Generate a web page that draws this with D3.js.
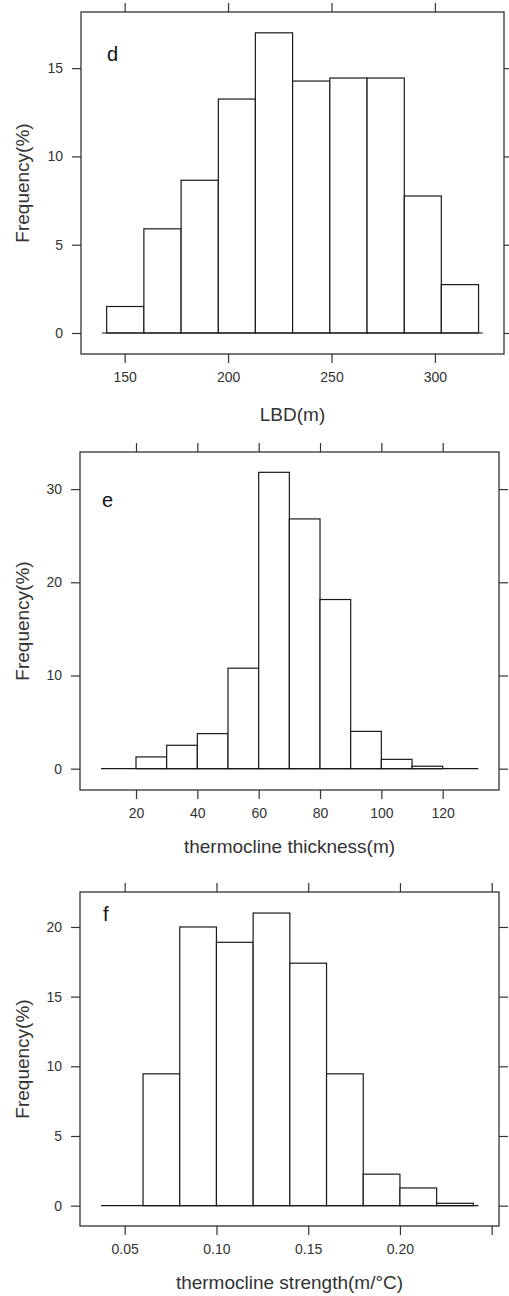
<!DOCTYPE html>
<html>
<head>
<meta charset="utf-8">
<script src="https://cdn.jsdelivr.net/npm/d3@7"></script>
<style>
  body { margin: 0; background: #fff; }
  svg { display: block; font-family: "Liberation Sans", Arial, sans-serif; }
</style>
</head>
<body>
<div id="chart"></div>
<script>
// Histogram data (bin edges and frequency %)
var lbdEdges = [141.3, 159.3, 177.3, 195.3, 213.2, 231.2, 249.2, 267.2, 285.2, 303.1, 321.1];
var lbdFreq = [1.5, 5.9, 8.65, 13.25, 17.0, 14.27, 14.44, 14.44, 7.76, 2.74];
var lbdTicks = [150, 200, 250, 300];
var lbdYTicks = [0, 5, 10, 15];

var thickEdges = [20, 30, 40, 50, 60, 70, 80, 90, 100, 110, 120];
var thickFreq = [1.26, 2.51, 3.76, 10.78, 31.8, 26.8, 18.15, 4.0, 1.0, 0.26];
var thickTicks = [20, 40, 60, 80, 100, 120];
var thickYTicks = [0, 10, 20, 30];

var strengthEdges = [0.06, 0.08, 0.10, 0.12, 0.14, 0.16, 0.18, 0.20, 0.22, 0.24];
var strengthFreq = [9.46, 20.0, 18.9, 21.0, 17.4, 9.46, 2.26, 1.27, 0.17];
var strengthTicks = [0.05, 0.10, 0.15, 0.20, 0.25];
var strengthLabels = ["0.05", "0.10", "0.15", "0.20", ""];
var strengthYTicks = [0, 5, 10, 15, 20];

var width = 509, height = 1296;

var svg = d3.select('#chart').append('svg')
    .attr('width', width)
    .attr('height', height);

svg.append('rect').attr('width', width).attr('height', height).attr('fill', '#fff');

var panels = [
    { letter: 'd', edges: lbdEdges, freq: lbdFreq, xTicks: lbdTicks, yTicks: lbdYTicks,
      labels: null, xlim: [128.9, 333.4], ylim: [-1.19, 18.18], base: [139.0, 323.2],
      box: { left: 81, right: 504, top: 12, bottom: 354 }, letterPos: [107, 61],
      title: 'LBD(m)', titleGap: 67 },
    { letter: 'e', edges: thickEdges, freq: thickFreq, xTicks: thickTicks, yTicks: thickYTicks,
      labels: null, xlim: [1.74, 138.36], ylim: [-2.29, 33.98], base: [8.6, 131.6],
      box: { left: 80, right: 499, top: 452, bottom: 790 }, letterPos: [102, 507],
      title: 'thermocline thickness(m)', titleGap: 63 },
    { letter: 'f', edges: strengthEdges, freq: strengthFreq, xTicks: strengthTicks, yTicks: strengthYTicks,
      labels: strengthLabels, xlim: [0.02564, 0.25398], ylim: [-1.46, 22.51], base: [0.0371, 0.2427],
      box: { left: 80, right: 499, top: 892, bottom: 1226 }, letterPos: [103, 921],
      title: 'thermocline strength(m/\u00B0C)', titleGap: 63 }
];

var ink = '#333';

panels.forEach(function(p) {
    var b = p.box;
    var x = d3.scaleLinear().domain(p.xlim).range([b.left, b.right]);
    var y = d3.scaleLinear().domain(p.ylim).range([b.bottom, b.top]);

    var g = svg.append('g');

    // bars
    var bins = p.freq.map(function(f, i) {
        return { x0: p.edges[i], x1: p.edges[i + 1], f: f };
    });
    g.selectAll('.bar')
        .data(bins)
        .enter().append('rect')
        .attr('class', 'bar')
        .attr('x', function(d) { return x(d.x0); })
        .attr('y', function(d) { return y(d.f); })
        .attr('width', function(d) { return x(d.x1) - x(d.x0); })
        .attr('height', function(d) { return y(0) - y(d.f); })
        .attr('fill', '#fff')
        .attr('stroke', '#1a1a1a')
        .attr('stroke-width', 1.2);

    // zero line
    g.append('line')
        .attr('x1', x(p.base[0])).attr('x2', x(p.base[1]))
        .attr('y1', y(0)).attr('y2', y(0))
        .attr('stroke', '#1a1a1a')
        .attr('stroke-width', 1.2);

    // axes, ticks outward on all sides
    var fmt = function(d, i) { return p.labels ? p.labels[i] : d; };
    var axes = [
        g.append('g').attr('transform', 'translate(0,' + b.bottom + ')')
            .call(d3.axisBottom(x).tickValues(p.xTicks).tickFormat(fmt).tickSize(9).tickPadding(9)),
        g.append('g').attr('transform', 'translate(0,' + b.top + ')')
            .call(d3.axisTop(x).tickValues(p.xTicks).tickFormat('').tickSize(9)),
        g.append('g').attr('transform', 'translate(' + b.left + ',0)')
            .call(d3.axisLeft(y).tickValues(p.yTicks).tickSize(9).tickPadding(9)),
        g.append('g').attr('transform', 'translate(' + b.right + ',0)')
            .call(d3.axisRight(y).tickValues(p.yTicks).tickFormat('').tickSize(9))
    ];
    axes.forEach(function(a) {
        a.select('.domain').remove();
        a.selectAll('line').attr('stroke', ink).attr('stroke-width', 1.2);
        a.selectAll('text').attr('fill', ink).style('font-size', '14px')
            .style('font-family', '"Liberation Sans", Arial, sans-serif');
    });

    // frame
    g.append('rect')
        .attr('x', b.left).attr('y', b.top)
        .attr('width', b.right - b.left).attr('height', b.bottom - b.top)
        .attr('fill', 'none')
        .attr('stroke', ink)
        .attr('stroke-width', 1.3);

    // panel letter
    g.append('text')
        .attr('x', p.letterPos[0]).attr('y', p.letterPos[1])
        .style('font-size', '20px')
        .attr('fill', '#111')
        .text(p.letter);

    // x title
    g.append('text')
        .attr('x', (b.left + b.right) / 2)
        .attr('y', b.bottom + p.titleGap)
        .attr('text-anchor', 'middle')
        .style('font-size', '19px')
        .attr('fill', ink)
        .text(p.title);

    // y title
    g.append('text')
        .attr('transform', 'translate(29,' + (b.top + b.bottom) / 2 + ') rotate(-90)')
        .attr('text-anchor', 'middle')
        .style('font-size', '19px')
        .attr('fill', ink)
        .text('Frequency(%)');
});
</script>
</body>
</html>
